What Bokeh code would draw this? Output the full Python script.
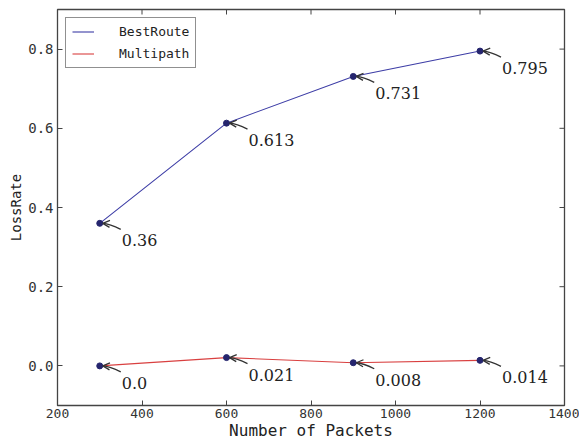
from bokeh.plotting import figure
from bokeh.models import (Range1d, FixedTicker, Legend, LegendItem,
                          ColumnDataSource, Arrow, OpenHead, PrintfTickFormatter)
from bokeh.core.properties import value
from bokeh.embed import file_html
from bokeh.resources import INLINE

# ---- data ----
packets = [300, 600, 900, 1200]
best_route = [0.36, 0.613, 0.731, 0.795]
multipath = [0.0, 0.021, 0.008, 0.014]
x_ticks = [200, 400, 600, 800, 1000, 1200, 1400]
y_ticks = [0.0, 0.2, 0.4, 0.6, 0.8]

W, H = 579, 443
BL, BR, BT, BB = 57, 15, 9, 38
X0, X1 = 200, 1400
Y0, Y1 = -0.1, 0.9

p = figure(width=W, height=H, output_backend="svg", toolbar_location=None,
           x_range=Range1d(X0, X1), y_range=Range1d(Y0, Y1),
           min_border_left=BL, min_border_right=BR, min_border_top=BT, min_border_bottom=BB)
p.grid.visible = False
p.background_fill_color = "white"
p.border_fill_color = "white"
p.outline_line_color = "#444444"
p.outline_line_width = 1.3

MONO = "DejaVu Sans Mono"

for ax, tk in ((p.xaxis[0], x_ticks), (p.yaxis[0], y_ticks)):
    ax.ticker = FixedTicker(ticks=tk)
    ax.major_tick_in = 5
    ax.major_tick_out = 0
    ax.minor_tick_line_color = None
    ax.axis_line_color = None
    ax.major_tick_line_color = "#444444"
    ax.major_label_text_font = MONO
    ax.major_label_text_font_size = "13px"
    ax.major_label_text_color = "#333333"
    ax.major_label_standoff = 3
    ax.axis_label_text_font = MONO
    ax.axis_label_text_font_style = "normal"
    ax.axis_label_text_color = "#222222"

p.yaxis.formatter = PrintfTickFormatter(format="%.1f")
p.yaxis.major_label_text_font_size = "14px"
p.yaxis.major_label_standoff = 4
p.xaxis.axis_label = "Number of Packets"
p.xaxis.axis_label_text_font_size = "16px"
p.xaxis.axis_label_standoff = 0
p.yaxis.axis_label = "LossRate"
p.yaxis.axis_label_text_font_size = "14px"
p.yaxis.axis_label_standoff = 1

plot_w = W - BL - BR
plot_h = H - BT - BB
ux = (X1 - X0) / plot_w
uy = (Y1 - Y0) / plot_h

# mirrored inward ticks on top and right frame edges
TK = 5
p.segment(x0=x_ticks, y0=[Y1] * len(x_ticks), x1=x_ticks, y1=[Y1 - TK * uy] * len(x_ticks),
          line_color="#444444", line_width=1)
p.segment(x0=[X1] * len(y_ticks), y0=y_ticks, x1=[X1 - TK * ux] * len(y_ticks), y1=y_ticks,
          line_color="#444444", line_width=1)

BLUE = "#3d3da6"
RED = "#d94040"
MARK = "#25256e"

r_best = p.line(packets, best_route, line_color=BLUE, line_width=1.1)
r_multi = p.line(packets, multipath, line_color=RED, line_width=1.1)
p.scatter(packets, best_route, size=6, fill_color=MARK, line_color=MARK)
p.scatter(packets, multipath, size=6, fill_color=MARK, line_color=MARK)

all_x = packets + packets
all_y = best_route + multipath
labels = [str(v) for v in all_y]

p.text(x=all_x, y=all_y, text=labels, x_offset=22, y_offset=17,
       text_font=value("DejaVu Serif"), text_font_size="16px",
       text_color="#222222", text_baseline="middle", text_align="left")

# curved arrows
tail_x = [x + 21 * ux for x in all_x]
tail_y = [y - 6 * uy for y in all_y]
ctrl_x = [x + 10 * ux for x in all_x]
ctrl_y = [y - 0.5 * uy for y in all_y]
head_x = [x + 3 * ux for x in all_x]
head_y = [y for y in all_y]
p.quadratic(x0=tail_x, y0=tail_y, x1=head_x, y1=head_y, cx=ctrl_x, cy=ctrl_y,
            line_color="#333333", line_width=1.3)
asrc = ColumnDataSource(dict(xs=ctrl_x, ys=ctrl_y, xe=head_x, ye=head_y))
p.add_layout(Arrow(x_start="xs", y_start="ys", x_end="xe", y_end="ye", source=asrc,
                   line_alpha=0,
                   end=OpenHead(size=7, line_color="#333333", line_width=1.3)))

legend = Legend(items=[LegendItem(label="BestRoute", renderers=[r_best]),
                       LegendItem(label="Multipath", renderers=[r_multi])],
                location="top_left", margin=8, padding=6, spacing=7,
                glyph_width=22, glyph_height=15, label_height=15, label_standoff=25,
                label_text_font=MONO, label_text_font_size="13px",
                label_text_color="#222222",
                border_line_color="#222222", border_line_width=1.3,
                background_fill_color="white", background_fill_alpha=1)
p.add_layout(legend)

open("out.html", "w").write(file_html(p, INLINE))
